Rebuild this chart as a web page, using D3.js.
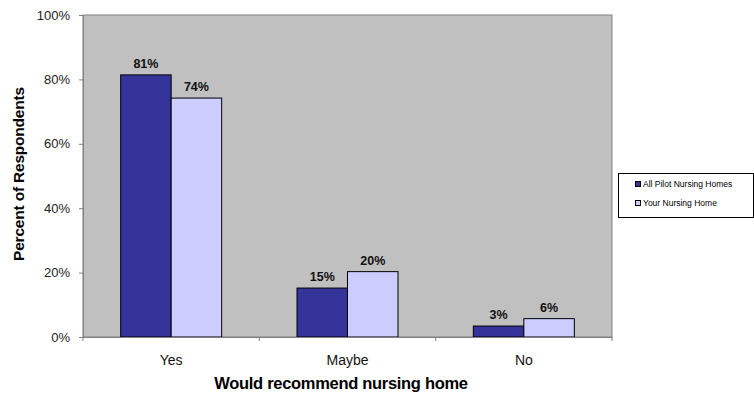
<!DOCTYPE html>
<html><head><meta charset="utf-8">
<script src="https://cdn.jsdelivr.net/npm/d3@7"></script>
<style>body{margin:0;background:#fff}svg{display:block}</style>
</head><body>
<svg id="c" width="754" height="394"></svg>
<script>
const categories = ["Yes", "Maybe", "No"];
const seriesNames = ["All Pilot Nursing Homes", "Your Nursing Home"];
const allPilot = [81.4, 15.2, 3.4];
const yourHome = [74.2, 20.3, 5.7];
const yTicks = [0, 20, 40, 60, 80, 100];
const colors = ["#333399", "#ccccff"];

const svg = d3.select("#c");
const L = 83, R = 612, T = 15, B = 337;
const x = d3.scaleBand().domain(categories).range([L, R]).paddingInner(0).paddingOuter(0);
const y = d3.scaleLinear().domain([0, 100]).range([B, T]);
const font = "Arial, 'Liberation Sans', sans-serif";

svg.append("rect").attr("x", L).attr("y", T).attr("width", R - L).attr("height", B - T)
  .attr("fill", "#c0c0c0").attr("stroke", "#808080").attr("stroke-width", 1);

const data = categories.map((c, i) => ({c, vals: [allPilot[i], yourHome[i]]}));
const barW = 50.5;
const g = svg.append("g");
data.forEach(d => {
  const cx = x(d.c) + x.bandwidth() / 2;
  d.vals.forEach((v, j) => {
    const bx = cx - barW + j * barW;
    g.append("rect").attr("x", bx).attr("y", y(v)).attr("width", barW).attr("height", B - y(v))
      .attr("fill", colors[j]).attr("stroke", "#000").attr("stroke-width", 1);
    g.append("text").attr("x", bx + barW / 2).attr("y", y(v) - 7).attr("text-anchor", "middle")
      .attr("font-family", font).attr("font-weight", "bold").attr("font-size", 12.5).attr("fill", "#111")
      .text(Math.round(v) + "%");
  });
});

// y axis
const ya = svg.append("g").attr("transform", `translate(${L},0)`)
  .call(d3.axisLeft(y).tickValues(yTicks).tickSize(4).tickPadding(9).tickFormat(d => d + "%"));
ya.select(".domain").attr("stroke", "#808080");
ya.selectAll(".tick line").attr("stroke", "#808080");
ya.selectAll("text").attr("font-family", font).attr("font-size", 13).attr("fill", "#222");

// x axis
const xa = svg.append("g").attr("transform", `translate(0,${B})`)
  .call(d3.axisBottom(x).tickSize(0).tickPadding(0));
xa.select(".domain").attr("stroke", "#808080");
xa.selectAll("text").attr("font-family", font).attr("font-size", 14).attr("fill", "#111")
  .attr("dy", null).attr("y", 28);
const bounds = categories.map(c => x(c)).concat([R]);
xa.selectAll(".bnd").data(bounds).enter().append("line").attr("class", "bnd")
  .attr("x1", d => d).attr("x2", d => d).attr("y1", 0).attr("y2", 4).attr("stroke", "#808080");

svg.append("text").attr("x", 341).attr("y", 389).attr("text-anchor", "middle")
  .attr("font-family", font).attr("font-weight", "bold").attr("font-size", 16.5).attr("letter-spacing", -0.3)
  .text("Would recommend nursing home");
svg.append("text").attr("transform", `translate(24,${174}) rotate(-90)`).attr("text-anchor", "middle")
  .attr("font-family", font).attr("font-weight", "bold").attr("font-size", 15.5).attr("letter-spacing", -0.2)
  .text("Percent of Respondents");

// legend
const lg = svg.append("g");
lg.append("rect").attr("x", 618.5).attr("y", 173.5).attr("width", 135).attr("height", 44)
  .attr("fill", "#fff").attr("stroke", "#000").attr("stroke-width", 1);
seriesNames.forEach((n, i) => {
  const yy = 184 + i * 19;
  lg.append("rect").attr("x", 635.5).attr("y", yy - 2.5).attr("width", 5).attr("height", 5)
    .attr("fill", colors[i]).attr("stroke", "#000").attr("stroke-width", 1);
  lg.append("text").attr("x", 643).attr("y", yy + 3).attr("font-family", font).attr("font-size", 8.5)
    .attr("fill", "#000").text(n);
});
</script>
</body></html>
